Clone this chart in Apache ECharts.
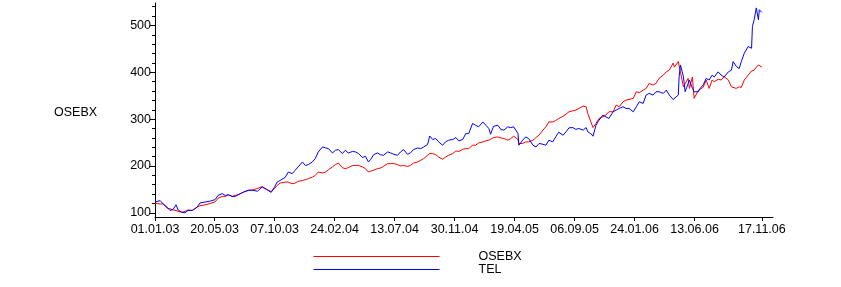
<!DOCTYPE html>
<html>
<head>
<meta charset="utf-8">
<script src="https://cdn.jsdelivr.net/npm/echarts@6/dist/echarts.min.js"></script>
<style>
html,body{margin:0;padding:0;background:#fff;}
#chart{width:841px;height:287px;}
</style>
</head>
<body>
<div id="chart"></div>
<script>
// Days since 01.01.2003
var days = [0,12,19,28,35,42,49,54,63,70,77,87,91,98,105,117,129,140,147,157,164,171,180,187,194,206,218,229,239,250,262,271,278,285,292,304,311,320,327,334,344,351,358,367,374,381,391,398,405,414,421,428,437,444,451,461,468,475,484,491,498,503,510,519,526,533,543,550,557,566,573,580,589,596,603,613,620,627,636,641,648,655,662,671,678,685,695,702,709,718,725,732,741,748,755,765,772,779,783,790,800,807,814,823,830,837,847,849,858,865,872,882,889,896,905,912,919,928,935,942,952,959,966,975,982,989,999,1006,1010,1017,1022,1029,1036,1045,1052,1059,1069,1076,1083,1092,1099,1106,1116,1123,1130,1139,1146,1153,1162,1169,1176,1186,1193,1200,1209,1212,1221,1223,1226,1233,1237,1244,1247,1254,1258,1268,1272,1279,1286,1293,1300,1305,1314,1321,1328,1338,1345,1349,1356,1363,1368,1375,1384,1392,1394,1398,1403,1408,1410,1416];
var osebx = [120,119,119,110,108.5,106,105,103,101,103,106,105,104,112,115,117,120,123,131,135,135,138.5,135,137,138.5,144,148,149,152,156,149,145.6,150.6,158.5,163.5,165.6,165.6,162,163.5,167,169,170.7,173,176,180,187,185,187,192,198,203,206,196.5,194,196.5,201,201,201,198,194.3,187,189,190.7,194.3,195.6,199,205,205,205,203,200,201,199,201,206,208.5,212,215.7,222.8,226.5,226.5,224,219,214.3,219,222.8,226.5,232,231,235.7,237,237,244.3,244.3,249,251.4,253.5,255,256.5,260.7,262,260,258.6,255,258.6,263.5,256.5,248,248,251.4,251.4,255,260.7,265.7,276.4,283.5,294,294,297,301.4,306,310.7,315.7,317.8,319.3,322.8,327.8,326.4,312,294,282,290.8,301.4,305,308.5,315.7,315.7,330,326.4,337,340.7,342,344.3,358.5,356.4,362,365.6,376.3,372.8,376.3,387,394,401,404.5,419.7,411,423,423,401,369,369,387,365.6,390,344.3,362,358.5,367.8,383.5,365.6,383.5,380,385,383.5,390.7,383.5,369,372.8,365.6,369,367.8,383.5,394,403,403,404.5,411,415.7,419.7,411];
var tel = [123,126,119,112,105,107,117,106,101,100,105,105,101,112,121,123,125,128,137,141,137,138.5,135,135,138.5,144,148,148,146,155,149,143.5,153.6,165.6,169,176,187,183.6,190.7,198,208.5,201,203,208.5,215.7,230,240.6,238.5,237,227.8,233.5,235,226.5,233.5,227.8,231,230,226.5,218,220.7,208.5,213.6,224,227.8,224,222.8,230,227.8,225,222.8,230,235,225,227.8,235,238.5,237,240.6,245.7,264,256.5,258.6,251.4,244.3,251.4,255,256.5,260.7,253.5,256.5,269,269,290.8,287,283.5,294,287,280,267.8,284.8,287,278,276.4,283.5,282,283.5,269,244.3,255,262,258.6,244.3,240.6,248,246.4,244.3,255,251.4,262,272,265.7,272.8,281.4,282,278,280,276.4,282,272.8,269,263.5,287,297.8,308.5,305,301.4,315.7,319.3,322.8,326.4,322.8,322.8,315.7,326.4,337,333.6,351.4,355,351.4,358.5,358.5,355,362,351.4,342,340.7,351.4,390.7,415.7,390.7,358.5,376.3,383.5,365.6,358.5,358.5,365.6,372.8,387,383.5,394,390,401,394,390,401,404.5,423,413,408,423,440.7,455,451.4,498,512,537.6,512,533.6,528];
var xTickDays = [0,139,279,419,559,699,839,979,1119,1259,1416];
var yLabels = [100,200,300,400,500];
var yMinorTicks = [100,120,140,160,180,200,220,240,260,280,300,320,340,360,380,400,420,440,460,480,500,520,540];
var seriesNames = ['OSEBX','TEL'];
var yAxisTitle = 'OSEBX';

function fmtDay(d){
  var t = new Date(Date.UTC(2003,0,1) + d*86400000);
  function p(n){return (n<10?'0':'')+n;}
  return p(t.getUTCDate())+'.'+p(t.getUTCMonth()+1)+'.'+p(t.getUTCFullYear()%100);
}
function pairs(v){return days.map(function(d,i){return [d,v[i]];});}

var chart = echarts.init(document.getElementById('chart'), null, {renderer:'canvas'});
var font = 'Liberation Sans, Arial, sans-serif';
chart.setOption({
  animation:false,
  backgroundColor:'#fff',
  textStyle:{fontFamily:font},
  grid:{left:155,right:68,top:3,bottom:70,containLabel:false},
  xAxis:{
    type:'value',min:0,max:1442,
    axisLine:{lineStyle:{color:'#000',width:1}},
    axisTick:{show:true,customValues:xTickDays,length:4,lineStyle:{color:'#000'}},
    axisLabel:{customValues:xTickDays,formatter:function(v){return fmtDay(v);},color:'#000',fontSize:12.5,margin:6,fontFamily:font},
    splitLine:{show:false}
  },
  yAxis:[{
    type:'value',min:91,max:548,
    axisLine:{show:true,lineStyle:{color:'#000',width:1}},
    axisTick:{show:true,customValues:yLabels,length:5,lineStyle:{color:'#000'}},
    axisLabel:{customValues:yLabels,color:'#000',fontSize:12.5,margin:4,fontFamily:font},
    splitLine:{show:false}
  },{
    type:'value',min:91,max:548,position:'left',
    axisLine:{show:false},
    axisTick:{show:true,customValues:yMinorTicks,length:3,lineStyle:{color:'#000'}},
    axisLabel:{show:false},
    splitLine:{show:false}
  }],
  legend:{
    orient:'vertical',left:313,top:250,padding:0,itemWidth:126,itemHeight:13,itemGap:0,
    data:seriesNames,
    itemStyle:{opacity:0},
    lineStyle:{width:1},
    textStyle:{color:'#000',fontSize:12.5,fontFamily:font,padding:[0,0,0,34],lineHeight:13}
  },
  graphic:[{type:'text',left:54,top:106,style:{text:yAxisTitle,fill:'#000',font:'12.5px '+font}}],
  series:[
    {name:seriesNames[0],type:'line',data:pairs(osebx),symbol:'none',lineStyle:{color:'#ff0000',width:1},itemStyle:{color:'#ff0000'}},
    {name:seriesNames[1],type:'line',data:pairs(tel),symbol:'none',lineStyle:{color:'#0000ff',width:1},itemStyle:{color:'#0000ff'}}
  ]
});
</script>
</body>
</html>
